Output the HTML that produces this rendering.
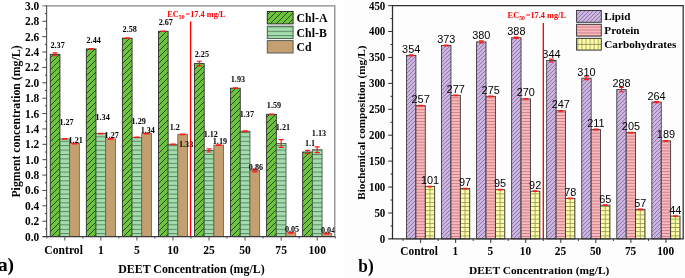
<!DOCTYPE html>
<html><head><meta charset="utf-8"><style>
html,body{margin:0;padding:0;background:#fff;width:685px;height:278px;overflow:hidden;font-family:"Liberation Serif",serif;}
svg{display:block;will-change:transform;}
</style></head><body>
<svg width="685" height="278" viewBox="0 0 685 278"><defs>
<pattern id="pA" patternUnits="userSpaceOnUse" width="6" height="6">
 <rect width="6" height="6" fill="#6cc43a"/>
 <path d="M-1,7 L7,-1 M-4,4 L4,-4 M2,10 L10,2" stroke="#1e3214" stroke-width="0.85"/>
</pattern>
<pattern id="pB" patternUnits="userSpaceOnUse" width="6" height="4.4">
 <rect width="6" height="4.4" fill="#a3ddae"/>
 <path d="M0,0.5 L6,0.5" stroke="#587f5c" stroke-width="0.95"/>
</pattern>
<pattern id="pL" patternUnits="userSpaceOnUse" width="4" height="4">
 <rect width="4" height="4" fill="#ccb5de"/>
 <path d="M-1,5 L5,-1 M-3,3 L3,-3 M1,7 L7,1" stroke="#8a72a6" stroke-width="0.9"/>
</pattern>
<pattern id="pP" patternUnits="userSpaceOnUse" width="6" height="2.95">
 <rect width="6" height="2.95" fill="#fcb9bb"/>
 <path d="M0,0.5 L6,0.5" stroke="#c67c84" stroke-width="0.9"/>
</pattern>
<pattern id="pC0" patternUnits="userSpaceOnUse" width="4.7" height="4.2" x="429.50" y="0.3"><rect width="4.7" height="4.2" fill="#fdfda3"/><path d="M0,0.5 H4.7 M0.5,0 V4.2" stroke="#96965f" stroke-width="0.85"/></pattern><pattern id="pC1" patternUnits="userSpaceOnUse" width="4.7" height="4.2" x="464.55" y="0.3"><rect width="4.7" height="4.2" fill="#fdfda3"/><path d="M0,0.5 H4.7 M0.5,0 V4.2" stroke="#96965f" stroke-width="0.85"/></pattern><pattern id="pC2" patternUnits="userSpaceOnUse" width="4.7" height="4.2" x="499.60" y="0.3"><rect width="4.7" height="4.2" fill="#fdfda3"/><path d="M0,0.5 H4.7 M0.5,0 V4.2" stroke="#96965f" stroke-width="0.85"/></pattern><pattern id="pC3" patternUnits="userSpaceOnUse" width="4.7" height="4.2" x="534.65" y="0.3"><rect width="4.7" height="4.2" fill="#fdfda3"/><path d="M0,0.5 H4.7 M0.5,0 V4.2" stroke="#96965f" stroke-width="0.85"/></pattern><pattern id="pC4" patternUnits="userSpaceOnUse" width="4.7" height="4.2" x="569.70" y="0.3"><rect width="4.7" height="4.2" fill="#fdfda3"/><path d="M0,0.5 H4.7 M0.5,0 V4.2" stroke="#96965f" stroke-width="0.85"/></pattern><pattern id="pC5" patternUnits="userSpaceOnUse" width="4.7" height="4.2" x="604.75" y="0.3"><rect width="4.7" height="4.2" fill="#fdfda3"/><path d="M0,0.5 H4.7 M0.5,0 V4.2" stroke="#96965f" stroke-width="0.85"/></pattern><pattern id="pC6" patternUnits="userSpaceOnUse" width="4.7" height="4.2" x="639.80" y="0.3"><rect width="4.7" height="4.2" fill="#fdfda3"/><path d="M0,0.5 H4.7 M0.5,0 V4.2" stroke="#96965f" stroke-width="0.85"/></pattern><pattern id="pC7" patternUnits="userSpaceOnUse" width="4.7" height="4.2" x="674.85" y="0.3"><rect width="4.7" height="4.2" fill="#fdfda3"/><path d="M0,0.5 H4.7 M0.5,0 V4.2" stroke="#96965f" stroke-width="0.85"/></pattern><pattern id="pCL" patternUnits="userSpaceOnUse" width="4.05" height="6.0" x="581.50" y="43.9"><rect width="4.05" height="6.0" fill="#fdfda3"/><path d="M0,0.5 H4.05 M0.5,0 V6.0" stroke="#96965f" stroke-width="0.85"/></pattern></defs><rect x="0" y="0" width="685" height="278" fill="#ffffff"/>
<rect x="344.5" y="0" width="340.5" height="278" fill="#fdfdfd"/>
<rect x="50.25" y="54.35" width="9.70" height="182.25" fill="url(#pA)" stroke="#262626" stroke-width="0.85"/>
<rect x="59.95" y="138.94" width="9.70" height="97.66" fill="url(#pB)" stroke="#3f5a42" stroke-width="0.85"/>
<rect x="69.65" y="143.55" width="9.70" height="93.05" fill="#c4a070" stroke="#6e6250" stroke-width="0.85"/>
<rect x="86.31" y="48.96" width="9.70" height="187.64" fill="url(#pA)" stroke="#262626" stroke-width="0.85"/>
<rect x="96.01" y="133.55" width="9.70" height="103.05" fill="url(#pB)" stroke="#3f5a42" stroke-width="0.85"/>
<rect x="105.71" y="138.94" width="9.70" height="97.66" fill="#c4a070" stroke="#6e6250" stroke-width="0.85"/>
<rect x="122.37" y="38.20" width="9.70" height="198.40" fill="url(#pA)" stroke="#262626" stroke-width="0.85"/>
<rect x="132.07" y="137.40" width="9.70" height="99.20" fill="url(#pB)" stroke="#3f5a42" stroke-width="0.85"/>
<rect x="141.77" y="133.55" width="9.70" height="103.05" fill="#c4a070" stroke="#6e6250" stroke-width="0.85"/>
<rect x="158.43" y="31.28" width="9.70" height="205.32" fill="url(#pA)" stroke="#262626" stroke-width="0.85"/>
<rect x="168.13" y="144.32" width="9.70" height="92.28" fill="url(#pB)" stroke="#3f5a42" stroke-width="0.85"/>
<rect x="177.83" y="134.32" width="9.70" height="102.28" fill="#c4a070" stroke="#6e6250" stroke-width="0.85"/>
<rect x="194.49" y="63.58" width="9.70" height="173.02" fill="url(#pA)" stroke="#262626" stroke-width="0.85"/>
<rect x="204.19" y="150.47" width="9.70" height="86.13" fill="url(#pB)" stroke="#3f5a42" stroke-width="0.85"/>
<rect x="213.89" y="145.09" width="9.70" height="91.51" fill="#c4a070" stroke="#6e6250" stroke-width="0.85"/>
<rect x="230.55" y="88.18" width="9.70" height="148.42" fill="url(#pA)" stroke="#262626" stroke-width="0.85"/>
<rect x="240.25" y="131.25" width="9.70" height="105.35" fill="url(#pB)" stroke="#3f5a42" stroke-width="0.85"/>
<rect x="249.95" y="170.47" width="9.70" height="66.13" fill="#c4a070" stroke="#6e6250" stroke-width="0.85"/>
<rect x="266.61" y="114.33" width="9.70" height="122.27" fill="url(#pA)" stroke="#262626" stroke-width="0.85"/>
<rect x="276.31" y="143.55" width="9.70" height="93.05" fill="url(#pB)" stroke="#3f5a42" stroke-width="0.85"/>
<rect x="286.01" y="232.75" width="9.70" height="3.84" fill="#c4a070" stroke="#6e6250" stroke-width="0.85"/>
<rect x="302.67" y="152.01" width="9.70" height="84.59" fill="url(#pA)" stroke="#262626" stroke-width="0.85"/>
<rect x="312.37" y="149.70" width="9.70" height="86.90" fill="url(#pB)" stroke="#3f5a42" stroke-width="0.85"/>
<rect x="322.07" y="233.52" width="9.70" height="3.08" fill="#c4a070" stroke="#6e6250" stroke-width="0.85"/>
<path d="M52.50,52.96 H57.70 M52.50,55.73 H57.70 M55.10,52.96 V55.73" stroke="#ff1a1a" stroke-width="1.2" fill="none"/>
<path d="M62.20,138.63 H67.40 M62.20,139.24 H67.40 M64.80,138.63 V139.24" stroke="#ff1a1a" stroke-width="1.2" fill="none"/>
<path d="M71.90,143.24 H77.10 M71.90,143.86 H77.10 M74.50,143.24 V143.86" stroke="#ff1a1a" stroke-width="1.2" fill="none"/>
<path d="M88.56,48.66 H93.76 M88.56,49.27 H93.76 M91.16,48.66 V49.27" stroke="#ff1a1a" stroke-width="1.2" fill="none"/>
<path d="M98.26,133.25 H103.46 M98.26,133.86 H103.46 M100.86,133.25 V133.86" stroke="#ff1a1a" stroke-width="1.2" fill="none"/>
<path d="M107.96,138.63 H113.16 M107.96,139.24 H113.16 M110.56,138.63 V139.24" stroke="#ff1a1a" stroke-width="1.2" fill="none"/>
<path d="M124.62,37.89 H129.82 M124.62,38.51 H129.82 M127.22,37.89 V38.51" stroke="#ff1a1a" stroke-width="1.2" fill="none"/>
<path d="M134.32,137.09 H139.52 M134.32,137.71 H139.52 M136.92,137.09 V137.71" stroke="#ff1a1a" stroke-width="1.2" fill="none"/>
<path d="M144.02,133.25 H149.22 M144.02,133.86 H149.22 M146.62,133.25 V133.86" stroke="#ff1a1a" stroke-width="1.2" fill="none"/>
<path d="M160.68,31.05 H165.88 M160.68,31.51 H165.88 M163.28,31.05 V31.51" stroke="#ff1a1a" stroke-width="1.2" fill="none"/>
<path d="M170.38,144.09 H175.58 M170.38,144.55 H175.58 M172.98,144.09 V144.55" stroke="#ff1a1a" stroke-width="1.2" fill="none"/>
<path d="M180.08,134.09 H185.28 M180.08,134.55 H185.28 M182.68,134.09 V134.55" stroke="#ff1a1a" stroke-width="1.2" fill="none"/>
<path d="M196.74,61.27 H201.94 M196.74,65.88 H201.94 M199.34,61.27 V65.88" stroke="#ff1a1a" stroke-width="1.2" fill="none"/>
<path d="M206.44,148.93 H211.64 M206.44,152.01 H211.64 M209.04,148.93 V152.01" stroke="#ff1a1a" stroke-width="1.2" fill="none"/>
<path d="M216.14,144.78 H221.34 M216.14,145.40 H221.34 M218.74,144.78 V145.40" stroke="#ff1a1a" stroke-width="1.2" fill="none"/>
<path d="M232.80,87.88 H238.00 M232.80,88.49 H238.00 M235.40,87.88 V88.49" stroke="#ff1a1a" stroke-width="1.2" fill="none"/>
<path d="M242.50,130.79 H247.70 M242.50,131.71 H247.70 M245.10,130.79 V131.71" stroke="#ff1a1a" stroke-width="1.2" fill="none"/>
<path d="M252.20,169.08 H257.40 M252.20,171.85 H257.40 M254.80,169.08 V171.85" stroke="#ff1a1a" stroke-width="1.2" fill="none"/>
<path d="M268.86,114.02 H274.06 M268.86,114.64 H274.06 M271.46,114.02 V114.64" stroke="#ff1a1a" stroke-width="1.2" fill="none"/>
<path d="M278.56,139.71 H283.76 M278.56,147.40 H283.76 M281.16,139.71 V147.40" stroke="#ff1a1a" stroke-width="1.2" fill="none"/>
<path d="M288.26,232.45 H293.46 M288.26,233.06 H293.46 M290.86,232.45 V233.06" stroke="#ff1a1a" stroke-width="1.2" fill="none"/>
<path d="M304.92,150.32 H310.12 M304.92,153.70 H310.12 M307.52,150.32 V153.70" stroke="#ff1a1a" stroke-width="1.2" fill="none"/>
<path d="M314.62,146.78 H319.82 M314.62,152.63 H319.82 M317.22,146.78 V152.63" stroke="#ff1a1a" stroke-width="1.2" fill="none"/>
<path d="M324.32,233.22 H329.52 M324.32,233.83 H329.52 M326.92,233.22 V233.83" stroke="#ff1a1a" stroke-width="1.2" fill="none"/>
<text transform="translate(57.60,48.15) scale(0.96,1)" text-anchor="middle" font-family="'Liberation Serif', serif" font-weight="bold" font-size="8.5">2.37</text>
<text transform="translate(66.55,125.04) scale(0.96,1)" text-anchor="middle" font-family="'Liberation Serif', serif" font-weight="bold" font-size="8.5">1.27</text>
<text transform="translate(75.65,142.95) scale(0.96,1)" text-anchor="middle" font-family="'Liberation Serif', serif" font-weight="bold" font-size="8.5">1.21</text>
<text transform="translate(93.66,42.76) scale(0.96,1)" text-anchor="middle" font-family="'Liberation Serif', serif" font-weight="bold" font-size="8.5">2.44</text>
<text transform="translate(102.61,119.65) scale(0.96,1)" text-anchor="middle" font-family="'Liberation Serif', serif" font-weight="bold" font-size="8.5">1.34</text>
<text transform="translate(111.71,138.34) scale(0.96,1)" text-anchor="middle" font-family="'Liberation Serif', serif" font-weight="bold" font-size="8.5">1.27</text>
<text transform="translate(129.72,32.00) scale(0.96,1)" text-anchor="middle" font-family="'Liberation Serif', serif" font-weight="bold" font-size="8.5">2.58</text>
<text transform="translate(138.67,123.50) scale(0.96,1)" text-anchor="middle" font-family="'Liberation Serif', serif" font-weight="bold" font-size="8.5">1.29</text>
<text transform="translate(147.77,132.95) scale(0.96,1)" text-anchor="middle" font-family="'Liberation Serif', serif" font-weight="bold" font-size="8.5">1.34</text>
<text transform="translate(165.78,25.08) scale(0.96,1)" text-anchor="middle" font-family="'Liberation Serif', serif" font-weight="bold" font-size="8.5">2.67</text>
<text transform="translate(174.73,130.42) scale(0.96,1)" text-anchor="middle" font-family="'Liberation Serif', serif" font-weight="bold" font-size="8.5">1.2</text>
<text transform="translate(186.10,147.20) scale(0.96,1)" text-anchor="middle" font-family="'Liberation Serif', serif" font-weight="bold" font-size="8.5">1.33</text>
<text transform="translate(201.84,57.38) scale(0.96,1)" text-anchor="middle" font-family="'Liberation Serif', serif" font-weight="bold" font-size="8.5">2.25</text>
<text transform="translate(210.79,136.57) scale(0.96,1)" text-anchor="middle" font-family="'Liberation Serif', serif" font-weight="bold" font-size="8.5">1.12</text>
<text transform="translate(219.89,144.49) scale(0.96,1)" text-anchor="middle" font-family="'Liberation Serif', serif" font-weight="bold" font-size="8.5">1.19</text>
<text transform="translate(237.90,81.98) scale(0.96,1)" text-anchor="middle" font-family="'Liberation Serif', serif" font-weight="bold" font-size="8.5">1.93</text>
<text transform="translate(246.85,117.35) scale(0.96,1)" text-anchor="middle" font-family="'Liberation Serif', serif" font-weight="bold" font-size="8.5">1.37</text>
<text transform="translate(255.95,169.87) scale(0.96,1)" text-anchor="middle" font-family="'Liberation Serif', serif" font-weight="bold" font-size="8.5">0.86</text>
<text transform="translate(273.96,108.13) scale(0.96,1)" text-anchor="middle" font-family="'Liberation Serif', serif" font-weight="bold" font-size="8.5">1.59</text>
<text transform="translate(282.91,129.65) scale(0.96,1)" text-anchor="middle" font-family="'Liberation Serif', serif" font-weight="bold" font-size="8.5">1.21</text>
<text transform="translate(292.01,232.16) scale(0.96,1)" text-anchor="middle" font-family="'Liberation Serif', serif" font-weight="bold" font-size="8.5">0.05</text>
<text transform="translate(310.02,145.81) scale(0.96,1)" text-anchor="middle" font-family="'Liberation Serif', serif" font-weight="bold" font-size="8.5">1.1</text>
<text transform="translate(318.97,135.80) scale(0.96,1)" text-anchor="middle" font-family="'Liberation Serif', serif" font-weight="bold" font-size="8.5">1.13</text>
<text transform="translate(328.07,232.92) scale(0.96,1)" text-anchor="middle" font-family="'Liberation Serif', serif" font-weight="bold" font-size="8.5">0.04</text>
<line x1="190.6" y1="21.4" x2="190.6" y2="236.6" stroke="#ff0000" stroke-width="1.35"/>
<text transform="translate(167.3,16.7)" font-family="'Liberation Serif', serif" font-weight="bold" font-size="8.3" fill="#ff0000">EC<tspan font-size="5.6" dy="2">50</tspan><tspan dy="-2" dx="1.0">=17.4 mg/L</tspan></text>
<path d="M42.4,5.9 H334.8 V236.6" stroke="#858585" stroke-width="1.25" fill="none"/><path d="M46.6,236.6 V5.300000000000001" stroke="#555" stroke-width="1.15" fill="none"/><path d="M42.4,236.6 H335.40000000000003" stroke="#3a3a3a" stroke-width="1.25" fill="none"/><text transform="translate(39.20,240.60) scale(0.95,1)" text-anchor="end" font-family="'Liberation Serif', serif" font-weight="bold" font-size="12">0.0</text><path d="M44.90,228.91 H46.9" stroke="#444" stroke-width="1"/><path d="M42.40,221.22 H46.9" stroke="#444" stroke-width="1"/><text transform="translate(39.20,225.22) scale(0.95,1)" text-anchor="end" font-family="'Liberation Serif', serif" font-weight="bold" font-size="12">0.2</text><path d="M44.90,213.53 H46.9" stroke="#444" stroke-width="1"/><path d="M42.40,205.84 H46.9" stroke="#444" stroke-width="1"/><text transform="translate(39.20,209.84) scale(0.95,1)" text-anchor="end" font-family="'Liberation Serif', serif" font-weight="bold" font-size="12">0.4</text><path d="M44.90,198.15 H46.9" stroke="#444" stroke-width="1"/><path d="M42.40,190.46 H46.9" stroke="#444" stroke-width="1"/><text transform="translate(39.20,194.46) scale(0.95,1)" text-anchor="end" font-family="'Liberation Serif', serif" font-weight="bold" font-size="12">0.6</text><path d="M44.90,182.77 H46.9" stroke="#444" stroke-width="1"/><path d="M42.40,175.08 H46.9" stroke="#444" stroke-width="1"/><text transform="translate(39.20,179.08) scale(0.95,1)" text-anchor="end" font-family="'Liberation Serif', serif" font-weight="bold" font-size="12">0.8</text><path d="M44.90,167.39 H46.9" stroke="#444" stroke-width="1"/><path d="M42.40,159.70 H46.9" stroke="#444" stroke-width="1"/><text transform="translate(39.20,163.70) scale(0.95,1)" text-anchor="end" font-family="'Liberation Serif', serif" font-weight="bold" font-size="12">1.0</text><path d="M44.90,152.01 H46.9" stroke="#444" stroke-width="1"/><path d="M42.40,144.32 H46.9" stroke="#444" stroke-width="1"/><text transform="translate(39.20,148.32) scale(0.95,1)" text-anchor="end" font-family="'Liberation Serif', serif" font-weight="bold" font-size="12">1.2</text><path d="M44.90,136.63 H46.9" stroke="#444" stroke-width="1"/><path d="M42.40,128.94 H46.9" stroke="#444" stroke-width="1"/><text transform="translate(39.20,132.94) scale(0.95,1)" text-anchor="end" font-family="'Liberation Serif', serif" font-weight="bold" font-size="12">1.4</text><path d="M44.90,121.25 H46.9" stroke="#444" stroke-width="1"/><path d="M42.40,113.56 H46.9" stroke="#444" stroke-width="1"/><text transform="translate(39.20,117.56) scale(0.95,1)" text-anchor="end" font-family="'Liberation Serif', serif" font-weight="bold" font-size="12">1.6</text><path d="M44.90,105.87 H46.9" stroke="#444" stroke-width="1"/><path d="M42.40,98.18 H46.9" stroke="#444" stroke-width="1"/><text transform="translate(39.20,102.18) scale(0.95,1)" text-anchor="end" font-family="'Liberation Serif', serif" font-weight="bold" font-size="12">1.8</text><path d="M44.90,90.49 H46.9" stroke="#444" stroke-width="1"/><path d="M42.40,82.80 H46.9" stroke="#444" stroke-width="1"/><text transform="translate(39.20,86.80) scale(0.95,1)" text-anchor="end" font-family="'Liberation Serif', serif" font-weight="bold" font-size="12">2.0</text><path d="M44.90,75.11 H46.9" stroke="#444" stroke-width="1"/><path d="M42.40,67.42 H46.9" stroke="#444" stroke-width="1"/><text transform="translate(39.20,71.42) scale(0.95,1)" text-anchor="end" font-family="'Liberation Serif', serif" font-weight="bold" font-size="12">2.2</text><path d="M44.90,59.73 H46.9" stroke="#444" stroke-width="1"/><path d="M42.40,52.04 H46.9" stroke="#444" stroke-width="1"/><text transform="translate(39.20,56.04) scale(0.95,1)" text-anchor="end" font-family="'Liberation Serif', serif" font-weight="bold" font-size="12">2.4</text><path d="M44.90,44.35 H46.9" stroke="#444" stroke-width="1"/><path d="M42.40,36.66 H46.9" stroke="#444" stroke-width="1"/><text transform="translate(39.20,40.66) scale(0.95,1)" text-anchor="end" font-family="'Liberation Serif', serif" font-weight="bold" font-size="12">2.6</text><path d="M44.90,28.97 H46.9" stroke="#444" stroke-width="1"/><path d="M42.40,21.28 H46.9" stroke="#444" stroke-width="1"/><text transform="translate(39.20,25.28) scale(0.95,1)" text-anchor="end" font-family="'Liberation Serif', serif" font-weight="bold" font-size="12">2.8</text><path d="M44.90,13.59 H46.9" stroke="#444" stroke-width="1"/><text transform="translate(39.20,9.90) scale(0.95,1)" text-anchor="end" font-family="'Liberation Serif', serif" font-weight="bold" font-size="12">3.0</text><path d="M64.80,236.6 v4" stroke="#555" stroke-width="1"/><path d="M46.77,236.6 v2" stroke="#555" stroke-width="1"/><text transform="translate(63.60,253.60) scale(0.97,1)" text-anchor="middle" font-family="'Liberation Serif', serif" font-weight="bold" font-size="12">Control</text><path d="M100.86,236.6 v4" stroke="#555" stroke-width="1"/><path d="M82.83,236.6 v2" stroke="#555" stroke-width="1"/><text transform="translate(100.86,253.60) scale(0.97,1)" text-anchor="middle" font-family="'Liberation Serif', serif" font-weight="bold" font-size="12">1</text><path d="M136.92,236.6 v4" stroke="#555" stroke-width="1"/><path d="M118.89,236.6 v2" stroke="#555" stroke-width="1"/><text transform="translate(136.92,253.60) scale(0.97,1)" text-anchor="middle" font-family="'Liberation Serif', serif" font-weight="bold" font-size="12">5</text><path d="M172.98,236.6 v4" stroke="#555" stroke-width="1"/><path d="M154.95,236.6 v2" stroke="#555" stroke-width="1"/><text transform="translate(172.98,253.60) scale(0.97,1)" text-anchor="middle" font-family="'Liberation Serif', serif" font-weight="bold" font-size="12">10</text><path d="M209.04,236.6 v4" stroke="#555" stroke-width="1"/><path d="M191.01,236.6 v2" stroke="#555" stroke-width="1"/><text transform="translate(209.04,253.60) scale(0.97,1)" text-anchor="middle" font-family="'Liberation Serif', serif" font-weight="bold" font-size="12">25</text><path d="M245.10,236.6 v4" stroke="#555" stroke-width="1"/><path d="M227.07,236.6 v2" stroke="#555" stroke-width="1"/><text transform="translate(245.10,253.60) scale(0.97,1)" text-anchor="middle" font-family="'Liberation Serif', serif" font-weight="bold" font-size="12">50</text><path d="M281.16,236.6 v4" stroke="#555" stroke-width="1"/><path d="M263.13,236.6 v2" stroke="#555" stroke-width="1"/><text transform="translate(281.16,253.60) scale(0.97,1)" text-anchor="middle" font-family="'Liberation Serif', serif" font-weight="bold" font-size="12">75</text><path d="M317.22,236.6 v4" stroke="#555" stroke-width="1"/><path d="M299.19,236.6 v2" stroke="#555" stroke-width="1"/><text transform="translate(317.22,253.60) scale(0.97,1)" text-anchor="middle" font-family="'Liberation Serif', serif" font-weight="bold" font-size="12">100</text><path d="M335.25,236.6 v2" stroke="#555" stroke-width="1"/>
<text transform="translate(118.20,272.80)" font-family="'Liberation Serif', serif" font-weight="bold" font-size="11.9">DEET Concentration (mg/L)</text>
<text transform="translate(19.7,197.6) rotate(-90)" font-family="'Liberation Serif', serif" font-weight="bold" font-size="11.82">Pigment concentration (mg/L)</text>
<text transform="translate(-2.10,270.70) scale(1.08,1)" font-family="'Liberation Serif', serif" font-weight="bold" font-size="18">a)</text>
<rect x="267.3" y="11.5" width="25.8" height="12.4" fill="url(#pA)" stroke="#262626" stroke-width="0.95"/>
<text transform="translate(296.60,21.80)" font-family="'Liberation Serif', serif" font-weight="bold" font-size="11.8">Chl-A</text>
<rect x="267.3" y="26.2" width="25.8" height="12.4" fill="url(#pB)" stroke="#3f5a42" stroke-width="0.95"/>
<text transform="translate(296.60,36.50)" font-family="'Liberation Serif', serif" font-weight="bold" font-size="11.8">Chl-B</text>
<rect x="267.3" y="40.6" width="25.8" height="12.4" fill="#c4a070" stroke="#555" stroke-width="0.95"/>
<text transform="translate(296.60,50.90)" font-family="'Liberation Serif', serif" font-weight="bold" font-size="11.8">Cd</text>
<rect x="406.50" y="55.37" width="9.40" height="183.53" fill="url(#pL)" stroke="#333" stroke-width="0.85"/>
<rect x="415.90" y="105.66" width="9.40" height="133.24" fill="url(#pP)" stroke="#333" stroke-width="0.85"/>
<rect x="425.30" y="186.54" width="9.40" height="52.36" fill="url(#pC0)" stroke="#333" stroke-width="0.85"/>
<rect x="441.55" y="45.52" width="9.40" height="193.38" fill="url(#pL)" stroke="#333" stroke-width="0.85"/>
<rect x="450.95" y="95.29" width="9.40" height="143.61" fill="url(#pP)" stroke="#333" stroke-width="0.85"/>
<rect x="460.35" y="188.61" width="9.40" height="50.29" fill="url(#pC1)" stroke="#333" stroke-width="0.85"/>
<rect x="476.60" y="41.89" width="9.40" height="197.01" fill="url(#pL)" stroke="#333" stroke-width="0.85"/>
<rect x="486.00" y="96.33" width="9.40" height="142.57" fill="url(#pP)" stroke="#333" stroke-width="0.85"/>
<rect x="495.40" y="189.65" width="9.40" height="49.25" fill="url(#pC2)" stroke="#333" stroke-width="0.85"/>
<rect x="511.65" y="37.74" width="9.40" height="201.16" fill="url(#pL)" stroke="#333" stroke-width="0.85"/>
<rect x="521.05" y="98.92" width="9.40" height="139.98" fill="url(#pP)" stroke="#333" stroke-width="0.85"/>
<rect x="530.45" y="191.20" width="9.40" height="47.70" fill="url(#pC3)" stroke="#333" stroke-width="0.85"/>
<rect x="546.70" y="60.56" width="9.40" height="178.34" fill="url(#pL)" stroke="#333" stroke-width="0.85"/>
<rect x="556.10" y="110.84" width="9.40" height="128.06" fill="url(#pP)" stroke="#333" stroke-width="0.85"/>
<rect x="565.50" y="198.46" width="9.40" height="40.44" fill="url(#pC4)" stroke="#333" stroke-width="0.85"/>
<rect x="581.75" y="78.18" width="9.40" height="160.72" fill="url(#pL)" stroke="#333" stroke-width="0.85"/>
<rect x="591.15" y="129.51" width="9.40" height="109.39" fill="url(#pP)" stroke="#333" stroke-width="0.85"/>
<rect x="600.55" y="205.20" width="9.40" height="33.70" fill="url(#pC5)" stroke="#333" stroke-width="0.85"/>
<rect x="616.80" y="89.59" width="9.40" height="149.31" fill="url(#pL)" stroke="#333" stroke-width="0.85"/>
<rect x="626.20" y="132.62" width="9.40" height="106.28" fill="url(#pP)" stroke="#333" stroke-width="0.85"/>
<rect x="635.60" y="209.35" width="9.40" height="29.55" fill="url(#pC6)" stroke="#333" stroke-width="0.85"/>
<rect x="651.85" y="102.03" width="9.40" height="136.87" fill="url(#pL)" stroke="#333" stroke-width="0.85"/>
<rect x="661.25" y="140.91" width="9.40" height="97.99" fill="url(#pP)" stroke="#333" stroke-width="0.85"/>
<rect x="670.65" y="216.09" width="9.40" height="22.81" fill="url(#pC7)" stroke="#333" stroke-width="0.85"/>
<path d="M408.80,54.85 H413.60 M408.80,55.89 H413.60 M411.20,54.85 V55.89" stroke="#ff1a1a" stroke-width="1.2" fill="none"/>
<path d="M418.20,105.35 H423.00 M418.20,105.97 H423.00 M420.60,105.35 V105.97" stroke="#ff1a1a" stroke-width="1.2" fill="none"/>
<path d="M427.60,186.23 H432.40 M427.60,186.85 H432.40 M430.00,186.23 V186.85" stroke="#ff1a1a" stroke-width="1.2" fill="none"/>
<path d="M443.85,45.21 H448.65 M443.85,45.83 H448.65 M446.25,45.21 V45.83" stroke="#ff1a1a" stroke-width="1.2" fill="none"/>
<path d="M453.25,94.98 H458.05 M453.25,95.60 H458.05 M455.65,94.98 V95.60" stroke="#ff1a1a" stroke-width="1.2" fill="none"/>
<path d="M462.65,188.30 H467.45 M462.65,188.92 H467.45 M465.05,188.30 V188.92" stroke="#ff1a1a" stroke-width="1.2" fill="none"/>
<path d="M478.90,40.85 H483.70 M478.90,42.93 H483.70 M481.30,40.85 V42.93" stroke="#ff1a1a" stroke-width="1.2" fill="none"/>
<path d="M488.30,96.02 H493.10 M488.30,96.64 H493.10 M490.70,96.02 V96.64" stroke="#ff1a1a" stroke-width="1.2" fill="none"/>
<path d="M497.70,189.34 H502.50 M497.70,189.96 H502.50 M500.10,189.34 V189.96" stroke="#ff1a1a" stroke-width="1.2" fill="none"/>
<path d="M513.95,37.12 H518.75 M513.95,38.37 H518.75 M516.35,37.12 V38.37" stroke="#ff1a1a" stroke-width="1.2" fill="none"/>
<path d="M523.35,98.61 H528.15 M523.35,99.23 H528.15 M525.75,98.61 V99.23" stroke="#ff1a1a" stroke-width="1.2" fill="none"/>
<path d="M532.75,190.89 H537.55 M532.75,191.51 H537.55 M535.15,190.89 V191.51" stroke="#ff1a1a" stroke-width="1.2" fill="none"/>
<path d="M549.00,59.21 H553.80 M549.00,61.90 H553.80 M551.40,59.21 V61.90" stroke="#ff1a1a" stroke-width="1.2" fill="none"/>
<path d="M558.40,110.53 H563.20 M558.40,111.16 H563.20 M560.80,110.53 V111.16" stroke="#ff1a1a" stroke-width="1.2" fill="none"/>
<path d="M567.80,198.15 H572.60 M567.80,198.77 H572.60 M570.20,198.15 V198.77" stroke="#ff1a1a" stroke-width="1.2" fill="none"/>
<path d="M584.05,76.73 H588.85 M584.05,79.63 H588.85 M586.45,76.73 V79.63" stroke="#ff1a1a" stroke-width="1.2" fill="none"/>
<path d="M593.45,129.20 H598.25 M593.45,129.82 H598.25 M595.85,129.20 V129.82" stroke="#ff1a1a" stroke-width="1.2" fill="none"/>
<path d="M602.85,204.89 H607.65 M602.85,205.51 H607.65 M605.25,204.89 V205.51" stroke="#ff1a1a" stroke-width="1.2" fill="none"/>
<path d="M619.10,87.41 H623.90 M619.10,91.77 H623.90 M621.50,87.41 V91.77" stroke="#ff1a1a" stroke-width="1.2" fill="none"/>
<path d="M628.50,132.31 H633.30 M628.50,132.93 H633.30 M630.90,132.31 V132.93" stroke="#ff1a1a" stroke-width="1.2" fill="none"/>
<path d="M637.90,209.04 H642.70 M637.90,209.66 H642.70 M640.30,209.04 V209.66" stroke="#ff1a1a" stroke-width="1.2" fill="none"/>
<path d="M654.15,101.51 H658.95 M654.15,102.55 H658.95 M656.55,101.51 V102.55" stroke="#ff1a1a" stroke-width="1.2" fill="none"/>
<path d="M663.55,140.60 H668.35 M663.55,141.23 H668.35 M665.95,140.60 V141.23" stroke="#ff1a1a" stroke-width="1.2" fill="none"/>
<path d="M672.95,215.78 H677.75 M672.95,216.40 H677.75 M675.35,215.78 V216.40" stroke="#ff1a1a" stroke-width="1.2" fill="none"/>
<text transform="translate(411.20,52.87)" text-anchor="middle" font-family="'Liberation Sans', sans-serif" font-size="10.9">354</text>
<text transform="translate(420.60,103.16)" text-anchor="middle" font-family="'Liberation Sans', sans-serif" font-size="10.9">257</text>
<text transform="translate(430.00,184.04)" text-anchor="middle" font-family="'Liberation Sans', sans-serif" font-size="10.9">101</text>
<text transform="translate(446.25,43.02)" text-anchor="middle" font-family="'Liberation Sans', sans-serif" font-size="10.9">373</text>
<text transform="translate(455.65,92.79)" text-anchor="middle" font-family="'Liberation Sans', sans-serif" font-size="10.9">277</text>
<text transform="translate(465.05,186.11)" text-anchor="middle" font-family="'Liberation Sans', sans-serif" font-size="10.9">97</text>
<text transform="translate(481.30,39.39)" text-anchor="middle" font-family="'Liberation Sans', sans-serif" font-size="10.9">380</text>
<text transform="translate(490.70,93.83)" text-anchor="middle" font-family="'Liberation Sans', sans-serif" font-size="10.9">275</text>
<text transform="translate(500.10,187.15)" text-anchor="middle" font-family="'Liberation Sans', sans-serif" font-size="10.9">95</text>
<text transform="translate(516.35,35.24)" text-anchor="middle" font-family="'Liberation Sans', sans-serif" font-size="10.9">388</text>
<text transform="translate(525.75,96.42)" text-anchor="middle" font-family="'Liberation Sans', sans-serif" font-size="10.9">270</text>
<text transform="translate(535.15,188.70)" text-anchor="middle" font-family="'Liberation Sans', sans-serif" font-size="10.9">92</text>
<text transform="translate(551.40,58.06)" text-anchor="middle" font-family="'Liberation Sans', sans-serif" font-size="10.9">344</text>
<text transform="translate(560.80,108.34)" text-anchor="middle" font-family="'Liberation Sans', sans-serif" font-size="10.9">247</text>
<text transform="translate(570.20,195.96)" text-anchor="middle" font-family="'Liberation Sans', sans-serif" font-size="10.9">78</text>
<text transform="translate(586.45,75.68)" text-anchor="middle" font-family="'Liberation Sans', sans-serif" font-size="10.9">310</text>
<text transform="translate(595.85,127.01)" text-anchor="middle" font-family="'Liberation Sans', sans-serif" font-size="10.9">211</text>
<text transform="translate(605.25,202.70)" text-anchor="middle" font-family="'Liberation Sans', sans-serif" font-size="10.9">65</text>
<text transform="translate(621.50,87.09)" text-anchor="middle" font-family="'Liberation Sans', sans-serif" font-size="10.9">288</text>
<text transform="translate(630.90,130.12)" text-anchor="middle" font-family="'Liberation Sans', sans-serif" font-size="10.9">205</text>
<text transform="translate(640.30,206.85)" text-anchor="middle" font-family="'Liberation Sans', sans-serif" font-size="10.9">57</text>
<text transform="translate(656.55,99.53)" text-anchor="middle" font-family="'Liberation Sans', sans-serif" font-size="10.9">264</text>
<text transform="translate(665.95,138.41)" text-anchor="middle" font-family="'Liberation Sans', sans-serif" font-size="10.9">189</text>
<text transform="translate(675.35,213.59)" text-anchor="middle" font-family="'Liberation Sans', sans-serif" font-size="10.9">44</text>
<line x1="543.3" y1="23.1" x2="543.3" y2="238.9" stroke="#ff0000" stroke-width="1.35"/>
<text transform="translate(507.6,18.1)" font-family="'Liberation Serif', serif" font-weight="bold" font-size="8.3" fill="#ff0000">EC<tspan font-size="5.6" dy="2">50</tspan><tspan dy="-2" dx="1.0">=17.4 mg/L</tspan></text>
<path d="M392.5,238.9 V5.6 H683.2 V238.9" stroke="#2e2e2e" stroke-width="1.25" fill="none"/><path d="M388.2,238.9 H683.8000000000001" stroke="#2e2e2e" stroke-width="1.25" fill="none"/><text transform="translate(385.30,242.80) scale(0.95,1)" text-anchor="end" font-family="'Liberation Serif', serif" font-weight="bold" font-size="11.5">0</text><path d="M390.50,225.94 H392.5" stroke="#2e2e2e" stroke-width="1"/><path d="M388.20,212.98 H392.5" stroke="#2e2e2e" stroke-width="1"/><text transform="translate(385.30,216.88) scale(0.95,1)" text-anchor="end" font-family="'Liberation Serif', serif" font-weight="bold" font-size="11.5">50</text><path d="M390.50,200.02 H392.5" stroke="#2e2e2e" stroke-width="1"/><path d="M388.20,187.06 H392.5" stroke="#2e2e2e" stroke-width="1"/><text transform="translate(385.30,190.96) scale(0.95,1)" text-anchor="end" font-family="'Liberation Serif', serif" font-weight="bold" font-size="11.5">100</text><path d="M390.50,174.09 H392.5" stroke="#2e2e2e" stroke-width="1"/><path d="M388.20,161.13 H392.5" stroke="#2e2e2e" stroke-width="1"/><text transform="translate(385.30,165.03) scale(0.95,1)" text-anchor="end" font-family="'Liberation Serif', serif" font-weight="bold" font-size="11.5">150</text><path d="M390.50,148.17 H392.5" stroke="#2e2e2e" stroke-width="1"/><path d="M388.20,135.21 H392.5" stroke="#2e2e2e" stroke-width="1"/><text transform="translate(385.30,139.11) scale(0.95,1)" text-anchor="end" font-family="'Liberation Serif', serif" font-weight="bold" font-size="11.5">200</text><path d="M390.50,122.25 H392.5" stroke="#2e2e2e" stroke-width="1"/><path d="M388.20,109.29 H392.5" stroke="#2e2e2e" stroke-width="1"/><text transform="translate(385.30,113.19) scale(0.95,1)" text-anchor="end" font-family="'Liberation Serif', serif" font-weight="bold" font-size="11.5">250</text><path d="M390.50,96.33 H392.5" stroke="#2e2e2e" stroke-width="1"/><path d="M388.20,83.37 H392.5" stroke="#2e2e2e" stroke-width="1"/><text transform="translate(385.30,87.27) scale(0.95,1)" text-anchor="end" font-family="'Liberation Serif', serif" font-weight="bold" font-size="11.5">300</text><path d="M390.50,70.41 H392.5" stroke="#2e2e2e" stroke-width="1"/><path d="M388.20,57.44 H392.5" stroke="#2e2e2e" stroke-width="1"/><text transform="translate(385.30,61.34) scale(0.95,1)" text-anchor="end" font-family="'Liberation Serif', serif" font-weight="bold" font-size="11.5">350</text><path d="M390.50,44.48 H392.5" stroke="#2e2e2e" stroke-width="1"/><path d="M388.20,31.52 H392.5" stroke="#2e2e2e" stroke-width="1"/><text transform="translate(385.30,35.42) scale(0.95,1)" text-anchor="end" font-family="'Liberation Serif', serif" font-weight="bold" font-size="11.5">400</text><path d="M390.50,18.56 H392.5" stroke="#2e2e2e" stroke-width="1"/><path d="M388.20,5.60 H392.5" stroke="#2e2e2e" stroke-width="1"/><text transform="translate(385.30,9.50) scale(0.95,1)" text-anchor="end" font-family="'Liberation Serif', serif" font-weight="bold" font-size="11.5">450</text><path d="M420.60,238.9 v4" stroke="#2e2e2e" stroke-width="1"/><path d="M403.08,238.9 v2" stroke="#2e2e2e" stroke-width="1"/><text transform="translate(419.10,254.60) scale(0.97,1)" text-anchor="middle" font-family="'Liberation Serif', serif" font-weight="bold" font-size="11.7">Control</text><path d="M455.65,238.9 v4" stroke="#2e2e2e" stroke-width="1"/><path d="M438.13,238.9 v2" stroke="#2e2e2e" stroke-width="1"/><text transform="translate(455.35,254.60) scale(0.97,1)" text-anchor="middle" font-family="'Liberation Serif', serif" font-weight="bold" font-size="11.7">1</text><path d="M490.70,238.9 v4" stroke="#2e2e2e" stroke-width="1"/><path d="M473.18,238.9 v2" stroke="#2e2e2e" stroke-width="1"/><text transform="translate(490.40,254.60) scale(0.97,1)" text-anchor="middle" font-family="'Liberation Serif', serif" font-weight="bold" font-size="11.7">5</text><path d="M525.75,238.9 v4" stroke="#2e2e2e" stroke-width="1"/><path d="M508.23,238.9 v2" stroke="#2e2e2e" stroke-width="1"/><text transform="translate(525.45,254.60) scale(0.97,1)" text-anchor="middle" font-family="'Liberation Serif', serif" font-weight="bold" font-size="11.7">10</text><path d="M560.80,238.9 v4" stroke="#2e2e2e" stroke-width="1"/><path d="M543.27,238.9 v2" stroke="#2e2e2e" stroke-width="1"/><text transform="translate(560.50,254.60) scale(0.97,1)" text-anchor="middle" font-family="'Liberation Serif', serif" font-weight="bold" font-size="11.7">25</text><path d="M595.85,238.9 v4" stroke="#2e2e2e" stroke-width="1"/><path d="M578.33,238.9 v2" stroke="#2e2e2e" stroke-width="1"/><text transform="translate(595.55,254.60) scale(0.97,1)" text-anchor="middle" font-family="'Liberation Serif', serif" font-weight="bold" font-size="11.7">50</text><path d="M630.90,238.9 v4" stroke="#2e2e2e" stroke-width="1"/><path d="M613.38,238.9 v2" stroke="#2e2e2e" stroke-width="1"/><text transform="translate(630.60,254.60) scale(0.97,1)" text-anchor="middle" font-family="'Liberation Serif', serif" font-weight="bold" font-size="11.7">75</text><path d="M665.95,238.9 v4" stroke="#2e2e2e" stroke-width="1"/><path d="M648.43,238.9 v2" stroke="#2e2e2e" stroke-width="1"/><text transform="translate(665.65,254.60) scale(0.97,1)" text-anchor="middle" font-family="'Liberation Serif', serif" font-weight="bold" font-size="11.7">100</text>
<text transform="translate(469.00,273.50)" font-family="'Liberation Serif', serif" font-weight="bold" font-size="11.4">DEET Concentration (mg/L)</text>
<text transform="translate(364.5,199.7) rotate(-90)" font-family="'Liberation Serif', serif" font-weight="bold" font-size="11.15">Biochemical composition (mg/L)</text>
<text transform="translate(358.30,271.50) scale(0.97,1)" font-family="'Liberation Serif', serif" font-weight="bold" font-size="17.8">b)</text>
<rect x="576.6" y="10.5" width="24.7" height="11.8" fill="url(#pL)" stroke="#333" stroke-width="0.95"/>
<text transform="translate(604.30,20.20) scale(0.99,1)" font-family="'Liberation Serif', serif" font-weight="bold" font-size="11.3">Lipid</text>
<rect x="576.6" y="24.3" width="24.7" height="11.8" fill="url(#pP)" stroke="#333" stroke-width="0.95"/>
<text transform="translate(604.30,34.00) scale(0.99,1)" font-family="'Liberation Serif', serif" font-weight="bold" font-size="11.3">Protein</text>
<rect x="576.6" y="38.3" width="24.7" height="11.8" fill="url(#pCL)" stroke="#333" stroke-width="0.95"/>
<text transform="translate(604.30,48.00) scale(0.99,1)" font-family="'Liberation Serif', serif" font-weight="bold" font-size="11.3">Carbohydrates</text></svg>
</body></html>
